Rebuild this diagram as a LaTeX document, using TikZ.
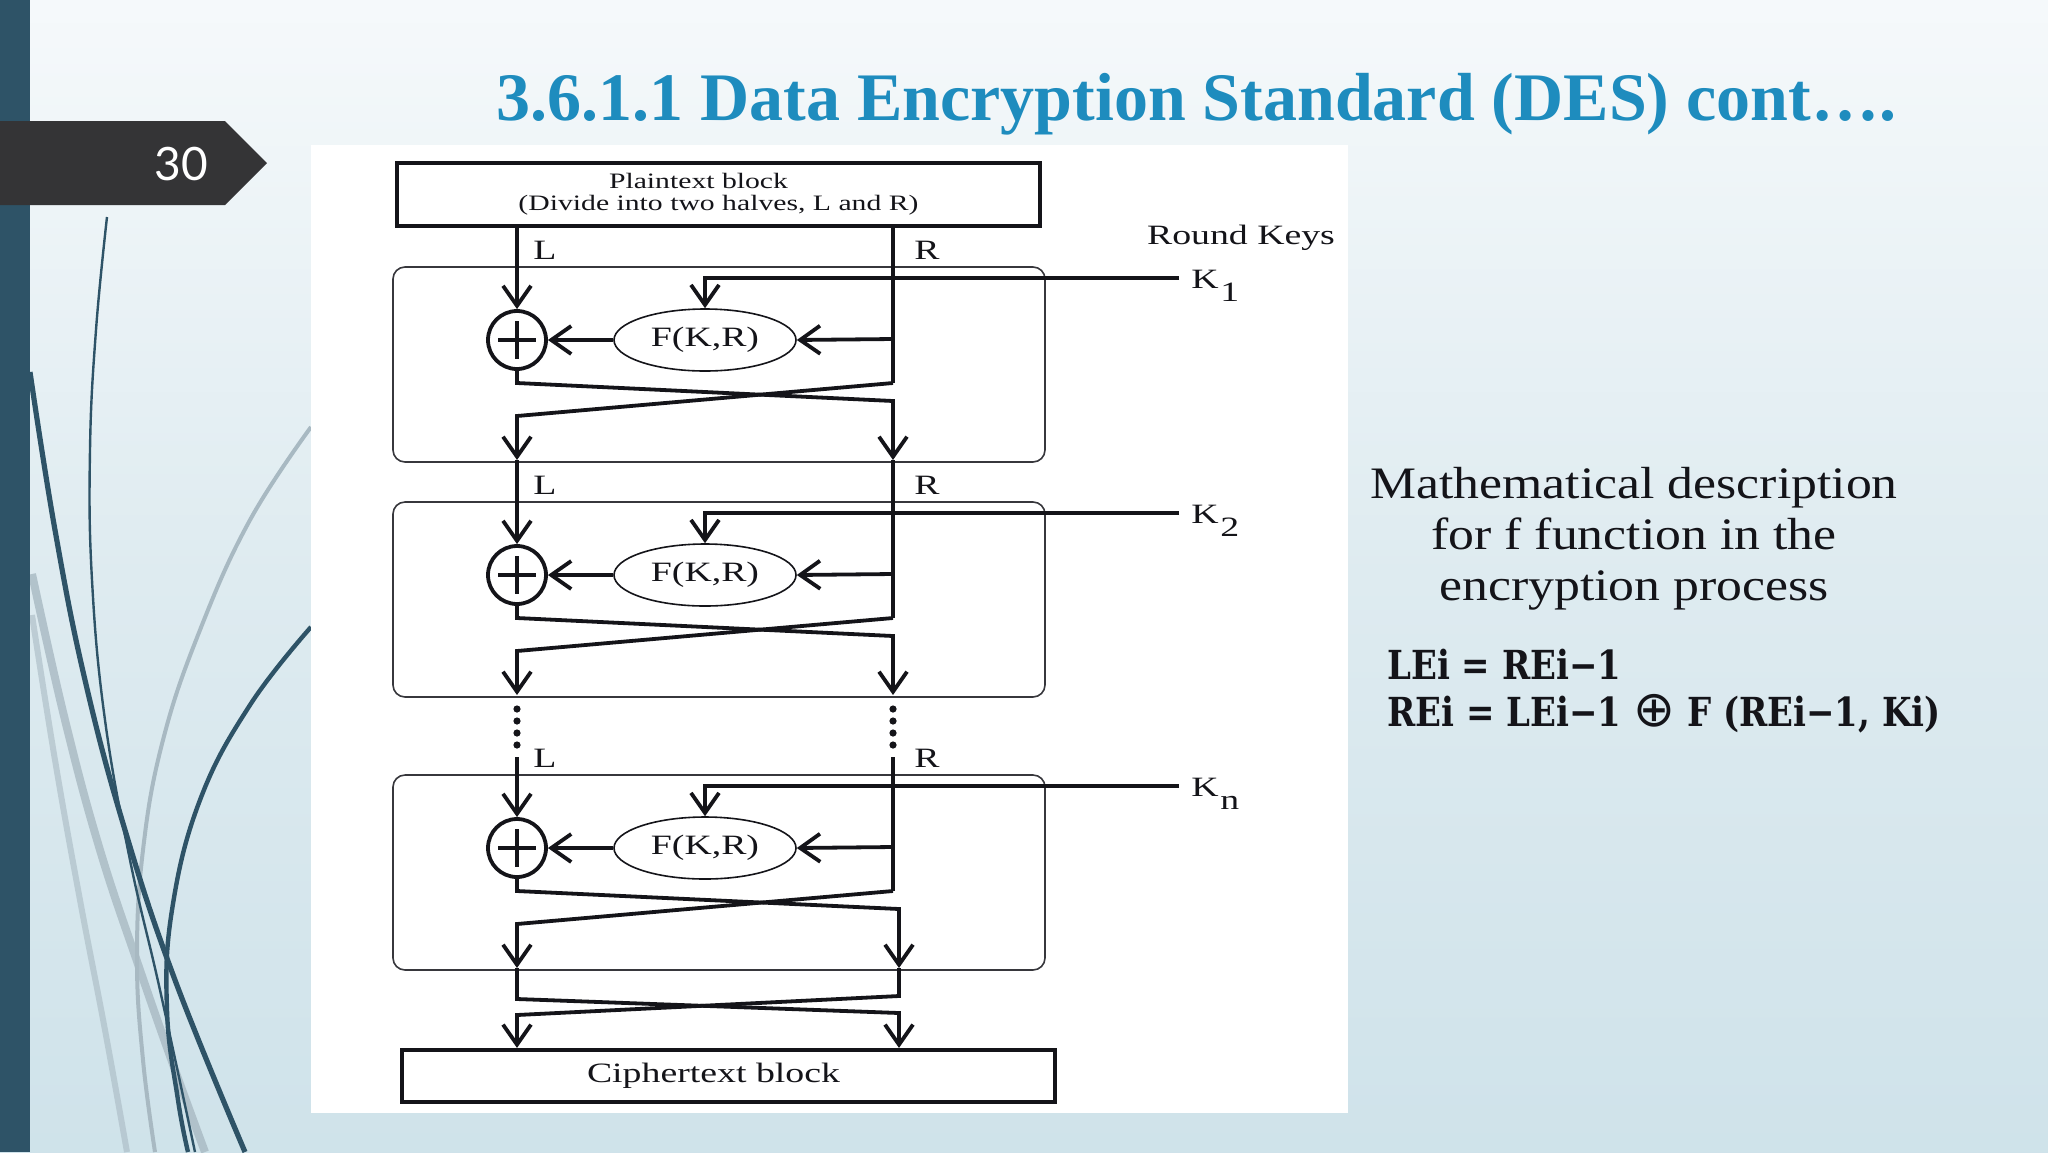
\documentclass[tikz,border=0pt]{standalone}
\usepackage{fontspec}
\usetikzlibrary{arrows.meta,shapes.geometric,calc}
\newfontfamily\dgfont[FakeStretch=1.35]{Liberation Serif}
\newfontfamily\ttlfont{Liberation Serif}
\newfontfamily\descfont[FakeStretch=1.15]{Liberation Serif}
\newfontfamily\eqfont[FakeStretch=0.85]{DejaVu Serif}
\newfontfamily\symfont{DejaVu Sans}
\newfontfamily\numfont{Lato}
\definecolor{barblue}{RGB}{46,83,103}
\definecolor{tabgray}{RGB}{52,52,54}
\definecolor{ttlblue}{RGB}{30,140,190}
\definecolor{wispgray}{RGB}{168,185,194}
\definecolor{bgtop}{RGB}{252,253,254}
\definecolor{bgmid}{RGB}{222,235,240}
\definecolor{bgbot}{RGB}{192,218,228}
\definecolor{ink}{RGB}{20,20,25}
\pgfdeclareverticalshading{bgshade}{100bp}{color(0bp)=(bgbot); color(50bp)=(bgmid); color(82bp)=(bgtop); color(100bp)=(bgtop)}
\begin{document}
\begin{tikzpicture}[x=0.5pt,y=-0.5pt,
  ln/.style={line width=1.9pt, draw=ink, line cap=butt, line join=miter},
  arr/.style={ln, -{Straight Barb[length=10pt,width=14pt]}},
  dgtext/.style={font=\dgfont\fontsize{14pt}{16pt}\selectfont, text=ink, inner sep=0pt},
  rbox/.style={draw=ink!85, line width=0.8pt, rounded corners=6pt, minimum width=326pt, minimum height=97.5pt, inner sep=0pt},
  xor/.style={circle, draw=ink, line width=1.9pt, minimum size=29pt, inner sep=0pt},
  fbox/.style={ellipse, draw=ink, line width=0.8pt, minimum width=91pt, minimum height=31pt, dgtext},
  blk/.style={draw=ink, line width=2.1pt, inner sep=0pt, fill=white},
  dotn/.style={circle, fill=ink, inner sep=0pt, minimum size=3.6pt},
]
\useasboundingbox (0,0) rectangle (2048,1152);
\shade[shading=bgshade] (0,0) rectangle (2048,1152);
% decorative wisps
\draw[wispgray, line width=2pt] plot[smooth, tension=0.7] coordinates {(311,427) (250,520) (200,630) (163,740) (143,850) (137,960) (143,1060) (155,1152)};
\draw[wispgray, line width=4pt, opacity=0.8] plot[smooth, tension=0.7] coordinates {(32,574) (65,720) (100,850) (140,970) (175,1070) (205,1152)};
\draw[wispgray, line width=3pt, opacity=0.6] plot[smooth, tension=0.7] coordinates {(32,615) (55,760) (80,900) (105,1030) (127,1152)};
\draw[barblue, line width=2.6pt] plot[smooth, tension=0.7] coordinates {(30,372) (55,530) (85,680) (125,830) (175,980) (245,1152)};
\draw[barblue, line width=1.2pt] plot[smooth, tension=0.7] coordinates {(107,217) (96,330) (90,450) (92,580) (105,720) (130,860) (160,990) (195,1152)};
\draw[barblue, line width=2.2pt] plot[smooth, tension=0.7] coordinates {(311,627) (250,705) (200,800) (172,910) (167,1010) (178,1100) (188,1152)};
% white panel
\fill[white] (311,145) rectangle (1348,1113);
% left bar and number tab
\fill[barblue] (0,0) rectangle (30,1152);
\fill[tabgray] (0,121) -- (225,121) -- (267,163) -- (225,205) -- (0,205) -- cycle;
\node[font=\numfont\fontsize{23pt}{23pt}\selectfont, text=white, inner sep=0] (num) at (181,164) {30};
% title
\node[anchor=base west, inner sep=0, font=\ttlfont\bfseries\fontsize{34pt}{40pt}\selectfont, text=ttlblue] (title) at (496,120) {3.6.1.1 Data Encryption Standard (DES) cont….};
% plaintext block
\node[blk, minimum width=321.5pt, minimum height=31.5pt, align=center, font=\dgfont\fontsize{11pt}{11pt}\selectfont, text=ink] (pt) at (718.5,194.5) {\raisebox{-1.5pt}{Plaintext block}\hspace*{20pt}\\\raisebox{-1.5pt}{(Divide into two halves, L and R)}};
\node[dgtext] (rk) at (1241,238) {Round Keys};
% rounds
\foreach \i/\T/\sub/\rx in {1/267/1/893, 2/502/2/893, 3/775/n/899} {
  \node[rbox] (B\i) at (719,\T+97.5) {};
  \node[xor] (X\i) at (517,\T+73) {};
  \draw[ln] ($(X\i)+(-19,0)$) -- ($(X\i)+(19,0)$) ($(X\i)+(0,-19)$) -- ($(X\i)+(0,19)$);
  \node[fbox] (F\i) at (705,\T+73) {F(K,R)};
  \coordinate (K\i) at (1179,\T+11);
  \node[dgtext, anchor=base west] (KL\i) at (1191,\T+21) {K\kern0.8pt\raisebox{-6.5pt}{\sub}};
  \draw[arr] (K\i) -| (F\i.north);
  \coordinate (RB\i) at (893,\T+72);
  \draw[arr] (RB\i) -- (F\i.east);
  \draw[arr] (F\i.west) -- (X\i.east);
  \coordinate (CL\i) at (517,\T+116);
  \coordinate (CR\i) at (893,\T+116);
  \coordinate (OL\i) at (517,\T+193);
  \coordinate (OR\i) at (\rx,\T+193);
  \draw[arr] (X\i.south) -- (CL\i) -- (\rx,\T+134) -- (OR\i);
  \draw[arr] (CR\i) -- (517,\T+149) -- (OL\i);
  \node[dgtext] (LL\i) at (545,\T-17) {L};
  \node[dgtext] (RL\i) at (927,\T-17) {R};
}
% inputs
\draw[arr] (pt.south -| X1) -- (X1.north);
\draw[ln] (pt.south -| CR1) -- (CR1);
\draw[arr] (OL1) -- (X2.north);
\draw[ln] (OR1) -- (CR2);
\foreach \y in {709,721,733,745} {
  \node[dotn] (dl\y) at (517,\y) {};
  \node[dotn] (dr\y) at (893,\y) {};
}
\coordinate (IL3) at (517,757);
\coordinate (IR3) at (893,757);
\draw[arr] (IL3) -- (X3.north);
\draw[ln] (IR3) -- (CR3);
% ciphertext
\node[blk, minimum width=326.5pt, minimum height=26pt, dgtext] (ct) at (728.5,1076) {Ciphertext block\hspace*{15pt}};
\coordinate (FL) at (517,999);
\coordinate (FR) at (899,996);
\draw[arr] (OL3) -- (FL) -- (899,1013) -- (ct.north -| OR3);
\draw[arr] (OR3) -- (FR) -- (517,1015) -- (ct.north -| OL3);
% right-hand text
\node[font=\descfont\fontsize{22.5pt}{25.5pt}\selectfont, text=ink, align=center, inner sep=0] (desc) at (1634,539) {Mathematical description\\for f function in the\\encryption process};
\node[anchor=west, font=\eqfont\bfseries\fontsize{20pt}{23.5pt}\selectfont, text=ink, align=left, inner sep=0] (eq) at (1387,691) {LEi = REi−1\\REi = LEi−1 {\symfont\mdseries\fontsize{25pt}{25pt}\selectfont ⊕} F (REi−1, Ki)};
\end{tikzpicture}
\end{document}
